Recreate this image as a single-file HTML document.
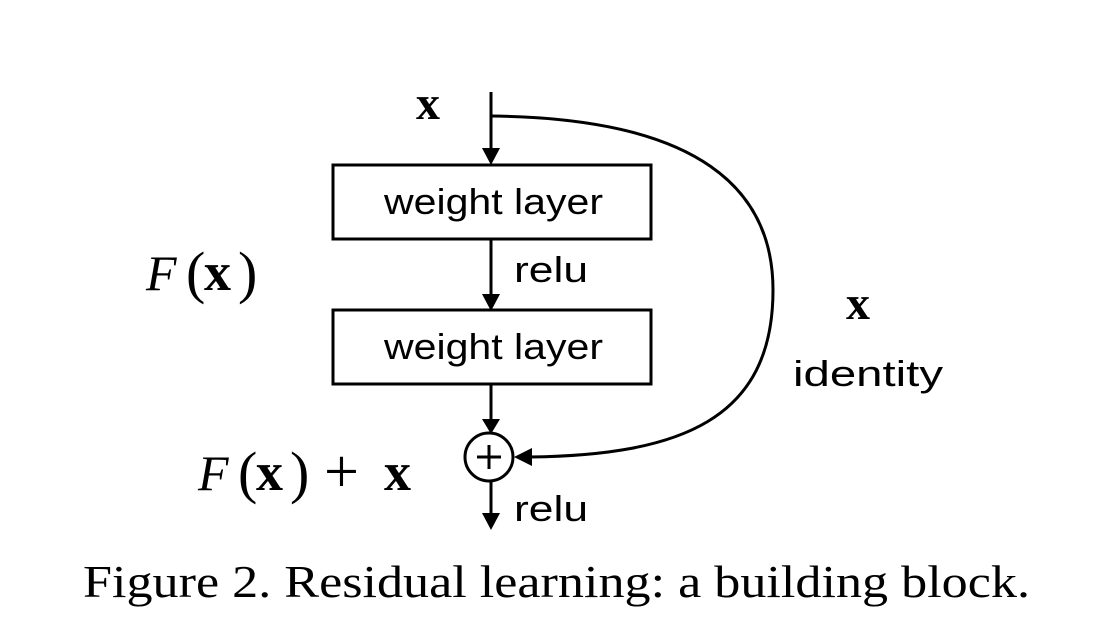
<!DOCTYPE html>
<html><head><style>html,body{margin:0;padding:0;background:#fff}svg{display:block}</style></head>
<body>
<svg width="1116" height="630" viewBox="0 0 1116 630" xmlns="http://www.w3.org/2000/svg">
<g stroke="#000" stroke-width="3" fill="none">
<line x1="491" y1="92" x2="491" y2="150"/>
<rect x="333" y="165" width="318" height="74"/>
<line x1="491" y1="239" x2="491" y2="296"/>
<rect x="333" y="310" width="318" height="74"/>
<line x1="491" y1="384" x2="491" y2="420"/>
<circle cx="489" cy="457" r="24"/>
<line x1="477" y1="457" x2="501" y2="457"/>
<line x1="489" y1="445" x2="489" y2="469"/>
<line x1="491" y1="481" x2="491" y2="515"/>
<path d="M491,116 C700,118 773,190 773,290 C773,420 680,455 530,457"/>
</g>
<g fill="#000">
<polygon points="482,148 500,148 491,165"/>
<polygon points="482,294 500,294 491,311"/>
<polygon points="482,419 500,419 491,434"/>
<polygon points="482,513 500,513 491,530"/>
<polygon points="532,448 532,466 514,457"/>
</g>
<g font-family="Liberation Sans, sans-serif" font-size="36" fill="#000">
<text x="384" y="214" textLength="219" lengthAdjust="spacingAndGlyphs">weight layer</text>
<text x="384" y="359" textLength="219" lengthAdjust="spacingAndGlyphs">weight layer</text>
<text x="514" y="282" textLength="74" lengthAdjust="spacingAndGlyphs">relu</text>
<text x="514" y="521" textLength="74" lengthAdjust="spacingAndGlyphs">relu</text>
<text x="793" y="386" textLength="150" lengthAdjust="spacingAndGlyphs">identity</text>
</g>
<g font-family="Liberation Serif, serif" font-size="50" fill="#000">
<text x="416" y="119" font-weight="bold" font-size="48">x</text>
<text x="846" y="319" font-weight="bold" font-size="48">x</text>
<text x="146" y="290" font-style="italic">F</text>
<text x="186" y="292" font-size="58">(</text>
<text x="204" y="290" font-weight="bold" font-size="54">x</text>
<text x="238" y="292" font-size="58">)</text>
<text x="198" y="490" font-style="italic">F</text>
<text x="238" y="492" font-size="58">(</text>
<text x="256" y="490" font-weight="bold" font-size="54">x</text>
<text x="290" y="492" font-size="58">)</text>
<text x="324" y="492" font-size="62">+</text>
<text x="384" y="490" font-weight="bold" font-size="54">x</text>
</g>
<text x="83" y="597" textLength="947" lengthAdjust="spacingAndGlyphs" font-family="Liberation Serif, serif" font-size="46" fill="#000">Figure 2. Residual learning: a building block.</text>
</svg>
</body></html>
